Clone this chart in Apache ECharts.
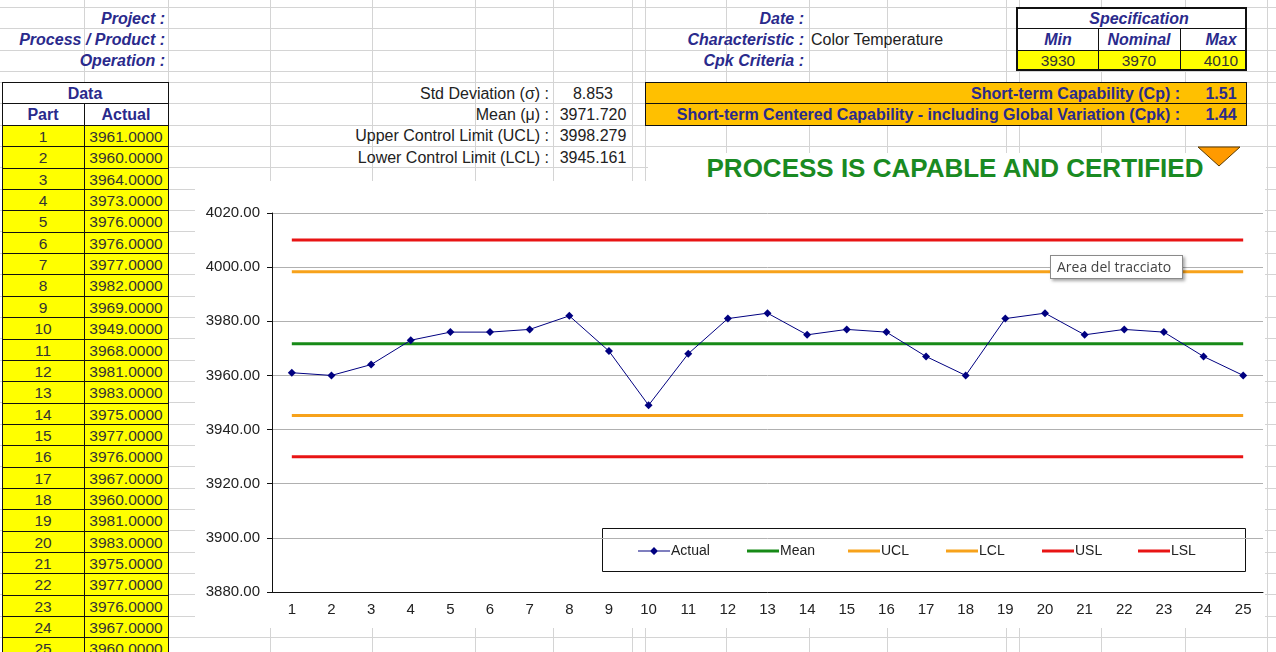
<!DOCTYPE html>
<html>
<head>
<meta charset="utf-8">
<script src="https://cdn.jsdelivr.net/npm/echarts@6/dist/echarts.min.js"></script>
<style>
    body { margin: 0; width: 1276px; height: 652px; overflow: hidden; background: #fff; position: relative;
           font-family: "Liberation Sans", Arial, sans-serif; }
    .ln { position: absolute; background: #d4d4d4; }
    .box { position: absolute; box-sizing: border-box; }
    .t { position: absolute; white-space: nowrap; font-size: 16px; line-height: 21px; color: #222; }
    .lbl { font-weight: bold; font-style: italic; color: #2a2a8c; }
    .hd { font-weight: bold; color: #2a2a8c; }
    .num { font-size: 15.5px; color: #333; }
    #chart { position: absolute; left: 195px; top: 181px; width: 1070px; height: 447px; background: #fff; }
    #tip { position: absolute; left: 1050px; top: 255px; width: 133px; height: 24px; box-sizing: border-box;
           background: #fff; border: 1px solid #8a8a8a; box-shadow: 2px 2px 3px rgba(0,0,0,0.35);
           font: 14px "Open Sans", sans-serif; color: #444; line-height: 21px; padding-left: 6px; }
</style>
</head>
<body>
<div id="sheet"></div>
<div id="chart"></div>
<div id="tip">Area del tracciato</div>
<script>
// dati
const parts = ['1','2','3','4','5','6','7','8','9','10','11','12','13','14','15','16','17','18','19','20','21','22','23','24','25'];
const actual = [3961, 3960, 3964, 3973, 3976, 3976, 3977, 3982, 3969, 3949, 3968, 3981, 3983,
                3975, 3977, 3976, 3967, 3960, 3981, 3983, 3975, 3977, 3976, 3967, 3960];
const specMin = 3930, specNominal = 3970, specMax = 4010;
const stdDev = 8.853, mean = 3971.720, ucl = 3998.279, lcl = 3945.161;
const cp = 1.51, cpk = 1.44;
const yTicks = { min: 3880, max: 4020, step: 20 };
const legendNames = ['Actual', 'Mean', 'UCL', 'LCL', 'USL', 'LSL'];

const sheet = document.getElementById('sheet');
function add(html) { sheet.insertAdjacentHTML('beforeend', html); }
function text(str, x, y, opt) {
    opt = opt || {};
    const cls = 't ' + (opt.cls || '');
    const st = opt.style || '';
    if (opt.align === 'right') add(`<div class="${cls}" style="right:${1276 - x}px;top:${y - 10.5}px;${st}">${str}</div>`);
    else if (opt.align === 'center') add(`<div class="${cls}" style="left:${x - 200}px;width:400px;text-align:center;top:${y - 10.5}px;${st}">${str}</div>`);
    else add(`<div class="${cls}" style="left:${x}px;top:${y - 10.5}px;${st}">${str}</div>`);
}

// griglia del foglio
const cols = [84, 168, 270, 372, 475, 553, 632, 645, 726, 809, 887, 1006, 1019, 1101, 1185, 1267];
cols.forEach(x => add(`<div class="ln" style="left:${x}px;top:0;width:1px;height:652px"></div>`));
const rows = [7, 28, 50, 71];
for (let y = 82; y < 652; y += 21.35) rows.push(Math.round(y));
rows.forEach(y => add(`<div class="ln" style="left:0;top:${y}px;width:1276px;height:1px"></div>`));

// intestazione
text('Project :', 165, 18, { align: 'right', cls: 'lbl' });
text('Process / Product :', 165, 39, { align: 'right', cls: 'lbl' });
text('Operation :', 165, 60, { align: 'right', cls: 'lbl' });
text('Date :', 804, 18, { align: 'right', cls: 'lbl' });
text('Characteristic :', 804, 39, { align: 'right', cls: 'lbl' });
text('Color Temperature', 811, 39);
text('Cpk Criteria :', 804, 60, { align: 'right', cls: 'lbl' });

// specifiche
add('<div class="box" style="left:1016px;top:7px;width:231px;height:64px;background:#fff;border:2px solid #111"></div>');
add('<div class="box" style="left:1016px;top:50px;width:231px;height:21px;background:#ffff00;border:2px solid #111;border-top:1px solid #111"></div>');
add('<div class="box" style="left:1016px;top:28px;width:231px;height:1px;background:#111"></div>');
add('<div class="box" style="left:1098px;top:28px;width:1px;height:43px;background:#111"></div>');
add('<div class="box" style="left:1180px;top:28px;width:1px;height:43px;background:#111"></div>');
text('Specification', 1139, 18, { align: 'center', cls: 'lbl' });
text('Min', 1058, 39, { align: 'center', cls: 'lbl' });
text('Nominal', 1139, 39, { align: 'center', cls: 'lbl' });
text('Max', 1221, 39, { align: 'center', cls: 'lbl' });
text(String(specMin), 1058, 60, { align: 'center', cls: 'num' });
text(String(specNominal), 1139, 60, { align: 'center', cls: 'num' });
text(String(specMax), 1221, 60, { align: 'center', cls: 'num' });

// tabella dati
add('<div class="box" style="left:2px;top:82px;width:167px;height:44px;background:#fff;border:1px solid #111"></div>');
add('<div class="box" style="left:2px;top:103px;width:167px;height:1px;background:#111"></div>');
add('<div class="box" style="left:84px;top:103px;width:1px;height:22px;background:#111"></div>');
text('Data', 85, 93, { align: 'center', cls: 'hd' });
text('Part', 43, 114, { align: 'center', cls: 'hd' });
text('Actual', 126, 114, { align: 'center', cls: 'hd' });
actual.forEach((v, i) => {
    const top = Math.round(125 + i * 21.35);
    const h = Math.round(125 + (i + 1) * 21.35) - top + 1;
    add(`<div class="box" style="left:2px;top:${top}px;width:83px;height:${h}px;background:#ffff00;border:1px solid #111"></div>`);
    add(`<div class="box" style="left:84px;top:${top}px;width:85px;height:${h}px;background:#ffff00;border:1px solid #111"></div>`);
    text(parts[i], 43, top + 11, { align: 'center', cls: 'num' });
    text(v.toFixed(4), 126, top + 11, { align: 'center', cls: 'num' });
});

// statistiche
text('Std Deviation (σ) :', 549, 93, { align: 'right' });
text('Mean (μ) :', 549, 114, { align: 'right' });
text('Upper Control Limit (UCL) :', 549, 135, { align: 'right' });
text('Lower Control Limit (LCL) :', 549, 157, { align: 'right' });
text(stdDev.toFixed(3), 593, 93, { align: 'center' });
text(mean.toFixed(3), 593, 114, { align: 'center' });
text(ucl.toFixed(3), 593, 135, { align: 'center' });
text(lcl.toFixed(3), 593, 157, { align: 'center' });

// capacità
add('<div class="box" style="left:645px;top:82px;width:602px;height:44px;background:#ffc000;border:1px solid #111"></div>');
add('<div class="box" style="left:645px;top:103px;width:602px;height:1px;background:#111"></div>');
text('Short-term Capability (Cp) :', 1180, 93, { align: 'right', cls: 'hd' });
text('Short-term Centered Capability - including Global Variation (Cpk) :', 1180, 114, { align: 'right', cls: 'hd' });
text(cp.toFixed(2), 1221, 93, { align: 'center', cls: 'hd' });
text(cpk.toFixed(2), 1221, 114, { align: 'center', cls: 'hd' });

add('<div class="box" style="left:648px;top:153px;width:618px;height:30px;background:#fff"></div>');
add('<svg style="position:absolute;left:1196px;top:145px" width="48" height="24"><polygon points="2,2 44,2 23,21" fill="#ff9a00" stroke="#5a3a00" stroke-width="1"/></svg>');
add('<div class="t" style="left:655px;width:600px;text-align:center;top:154px;line-height:28px;font-size:26px;font-weight:bold;color:#1a8a22">PROCESS IS CAPABLE AND CERTIFIED</div>');

// grafico
const chart = echarts.init(document.getElementById('chart'));
const flat = v => [[parts[0], v], [parts[parts.length - 1], v]];
const limitLine = (name, v, color) => ({
    name: name, type: 'line', data: flat(v), symbol: 'none', color: color,
    lineStyle: { width: 3, color: color }, z: 3
});
const iconLine = 'path://M0,0H32V3H0Z';
const iconActual = 'path://M0,3.5H12.5L16,0L19.5,3.5H32V4.5H19.5L16,8L12.5,4.5H0Z';
const legendX = [443, 552, 653, 751, 847, 943];
const legends = legendNames.map((n, i) => ({
    left: legendX[i], top: 363, padding: 0,
    itemWidth: 32, itemHeight: 12,
    textStyle: { fontSize: 14, color: '#222', fontFamily: 'Liberation Sans', padding: [0, 0, 0, -4] },
    data: [{ name: n, icon: i === 0 ? iconActual : iconLine }]
}));

chart.setOption({
    animation: false,
    grid: { left: 77, right: 2, top: 32, bottom: 36 },
    legend: legends,
    graphic: [{
        type: 'rect', left: 407, top: 347, z: 0,
        shape: { width: 643, height: 43 },
        style: { fill: '#fff', stroke: '#111', lineWidth: 1 }
    }],
    xAxis: {
        type: 'category', data: parts, boundaryGap: true,
        axisLine: { lineStyle: { color: '#111' } },
        axisTick: { inside: true, length: 5, lineStyle: { color: '#111' } },
        axisLabel: { fontSize: 15, color: '#222', margin: 10, fontFamily: 'Liberation Sans' }
    },
    yAxis: {
        type: 'value', min: yTicks.min, max: yTicks.max, interval: yTicks.step,
        axisLine: { show: true, lineStyle: { color: '#111' } },
        axisTick: { show: true, length: 5, lineStyle: { color: '#111' } },
        axisLabel: { fontSize: 15, color: '#222', margin: 12, fontFamily: 'Liberation Sans',
                     formatter: v => v.toFixed(2) },
        splitLine: { lineStyle: { color: '#b0b0b0' } }
    },
    series: [
        {
            name: 'Actual', type: 'line', data: actual, color: '#000080',
            symbol: 'diamond', symbolSize: 8, lineStyle: { width: 1, color: '#000080' },
            itemStyle: { color: '#000080' }, z: 5
        },
        limitLine('Mean', mean, '#178a17'),
        limitLine('UCL', ucl, '#f7a21b'),
        limitLine('LCL', lcl, '#f7a21b'),
        limitLine('USL', specMax, '#e81414'),
        limitLine('LSL', specMin, '#e81414')
    ]
});
</script>
</body>
</html>
